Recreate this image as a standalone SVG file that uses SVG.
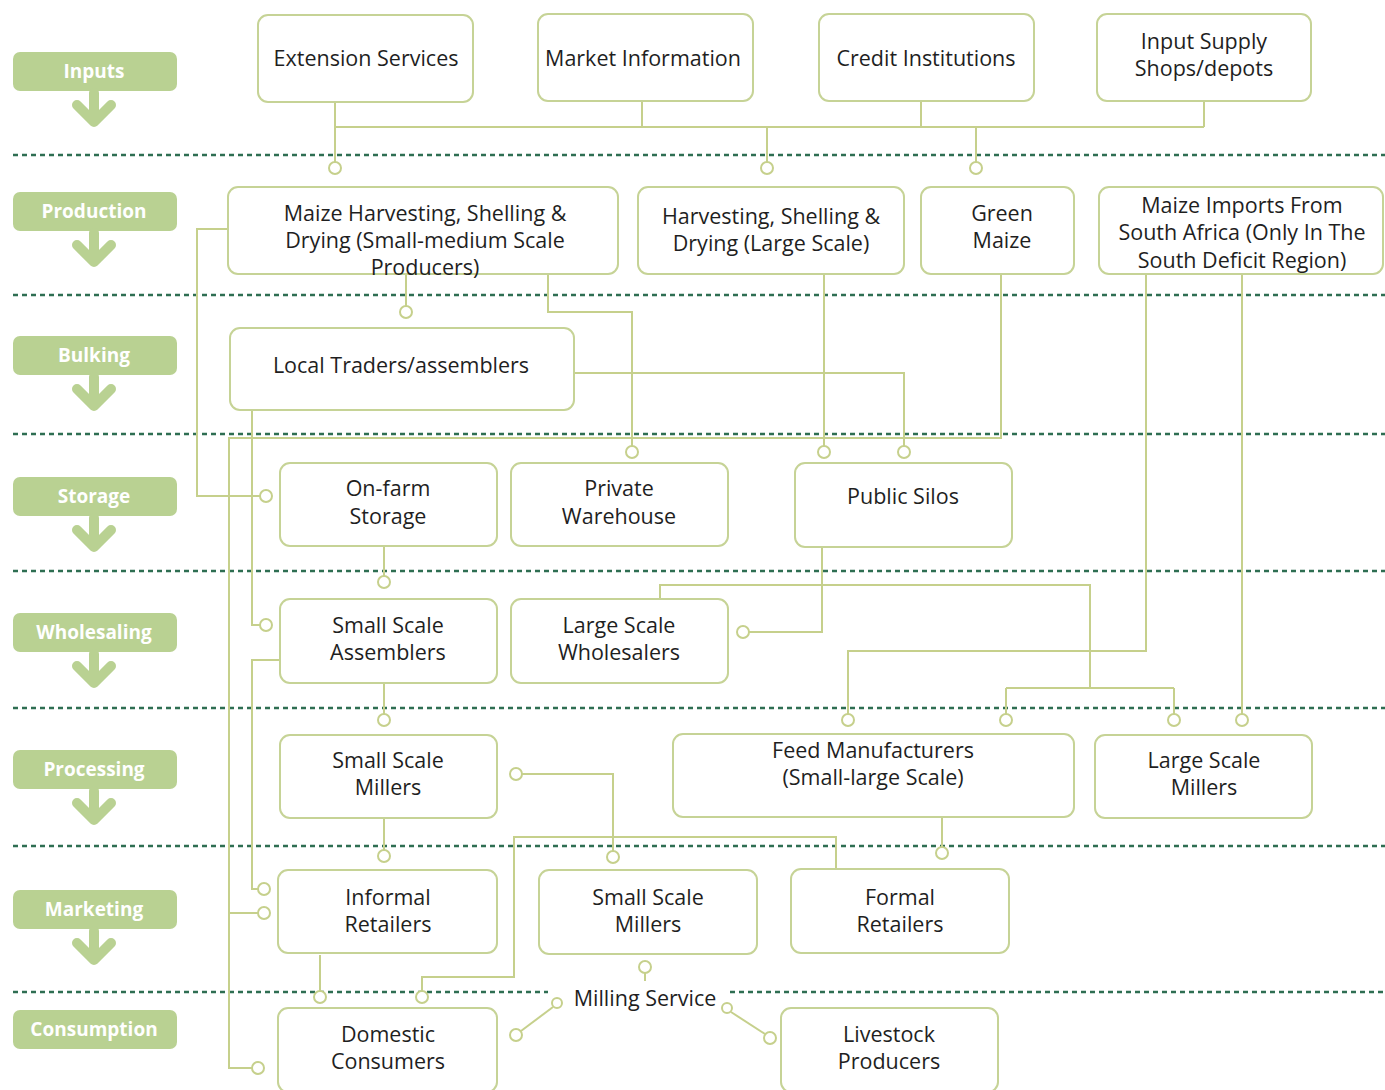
<svg xmlns="http://www.w3.org/2000/svg" width="1385" height="1090" viewBox="0 0 1385 1090">
<style>
.bg{fill:#ffffff}
.stage rect{fill:#b9d192}
.stage text{fill:#ffffff;font-family:"Open Sans","Noto Sans",sans-serif;font-size:19px;font-weight:700;text-anchor:middle}
.stage path{fill:none;stroke:#b9d192;stroke-width:10;stroke-linecap:round;stroke-linejoin:round}
.sep{stroke:#2e6e52;stroke-width:2.5;stroke-dasharray:5 4;fill:none}
.node rect{fill:#ffffff;stroke:#c6d396;stroke-width:2}
.node text{fill:#1f1f1f;font-family:"Open Sans","Noto Sans",sans-serif;font-size:21.5px;text-anchor:middle}
#connectors path{fill:none;stroke:#c6d08c;stroke-width:2}
#connectors circle{fill:#ffffff;stroke:#c6d08c;stroke-width:2}
</style>
<rect class="bg" x="0" y="0" width="1385" height="1090"/>

<g id="separators">
<path class="sep" d="M13,155 H1385"/>
<path class="sep" d="M13,295 H1385"/>
<path class="sep" d="M13,434 H1385"/>
<path class="sep" d="M13,571 H1385"/>
<path class="sep" d="M13,708 H1385"/>
<path class="sep" d="M13,846 H1385"/>
<path class="sep" d="M13,992 H548 M730,992 H1385"/>
</g>

<g id="stages">
<g class="stage" id="stage-inputs"><rect x="13" y="52" width="164" height="39" rx="7"/><text x="94" y="78">Inputs</text><path d="M94,93 V121 M77,105 L94,122 L111,105"/></g>
<g class="stage" id="stage-production"><rect x="13" y="192" width="164" height="39" rx="7"/><text x="94" y="218">Production</text><path d="M94,233 V261 M77,245 L94,262 L111,245"/></g>
<g class="stage" id="stage-bulking"><rect x="13" y="336" width="164" height="39" rx="7"/><text x="94" y="362">Bulking</text><path d="M94,377 V405 M77,389 L94,406 L111,389"/></g>
<g class="stage" id="stage-storage"><rect x="13" y="477" width="164" height="39" rx="7"/><text x="94" y="503">Storage</text><path d="M94,518 V546 M77,530 L94,547 L111,530"/></g>
<g class="stage" id="stage-wholesaling"><rect x="13" y="613" width="164" height="39" rx="7"/><text x="94" y="639">Wholesaling</text><path d="M94,654 V682 M77,666 L94,683 L111,666"/></g>
<g class="stage" id="stage-processing"><rect x="13" y="750" width="164" height="39" rx="7"/><text x="94" y="776">Processing</text><path d="M94,791 V819 M77,803 L94,820 L111,803"/></g>
<g class="stage" id="stage-marketing"><rect x="13" y="890" width="164" height="39" rx="7"/><text x="94" y="916">Marketing</text><path d="M94,931 V959 M77,943 L94,960 L111,943"/></g>
<g class="stage" id="stage-consumption"><rect x="13" y="1010" width="164" height="39" rx="7"/><text x="94" y="1036">Consumption</text></g>
</g>

<g id="connectors">
<path d="M335,102 V162 M335,127 H1204 M642,101 V127 M921,101 V127 M1204,101 V127 M767,127 V162 M976,127 V162"/>
<circle cx="335" cy="168" r="6"/><circle cx="767" cy="168" r="6"/><circle cx="976" cy="168" r="6"/>
<path d="M406,274 V306"/><circle cx="406" cy="312" r="6"/>
<path d="M548,274 V312 H632 V446"/><circle cx="632" cy="452" r="6"/>
<path d="M228,229 H197 V496 H260"/><circle cx="266" cy="496" r="6"/>
<path d="M824,274 V446"/><circle cx="824" cy="452" r="6"/>
<path d="M1001,274 V438 H229 V1068 H252 M229,913 H258"/><circle cx="258" cy="1068" r="6"/><circle cx="264" cy="913" r="6"/>
<path d="M574,373 H904 V446"/><circle cx="904" cy="452" r="6"/>
<path d="M252,410 V625 H260"/><circle cx="266" cy="625" r="6"/>
<path d="M280,660 H252 V889 H258"/><circle cx="264" cy="889" r="6"/>
<path d="M384,546 V576"/><circle cx="384" cy="582" r="6"/>
<path d="M384,683 V714"/><circle cx="384" cy="720" r="6"/>
<path d="M822,547 V632 H749"/><circle cx="743" cy="632" r="6"/>
<path d="M660,599 V585 H1090 V688 M1006,688 H1174 M1006,688 V714 M1174,688 V714"/><circle cx="1006" cy="720" r="6"/><circle cx="1174" cy="720" r="6"/>
<path d="M1146,274 V651 H848 V714"/><circle cx="848" cy="720" r="6"/>
<path d="M1242,274 V714"/><circle cx="1242" cy="720" r="6"/>
<path d="M384,818 V850"/><circle cx="384" cy="856" r="6"/>
<path d="M522,774 H613 V851"/><circle cx="516" cy="774" r="6"/><circle cx="613" cy="857" r="6"/>
<path d="M942,817 V847"/><circle cx="942" cy="853" r="6"/>
<path d="M836,869 V837 H514 V977 H422 V991"/><circle cx="422" cy="997" r="6"/>
<path d="M320,955 V991"/><circle cx="320" cy="997" r="6"/>
<path d="M645,973 V981"/><circle cx="645" cy="967" r="6"/>
<path d="M553,1007 L521,1031"/><circle cx="557" cy="1003" r="5"/><circle cx="516" cy="1035" r="6"/>
<path d="M731,1012 L765,1034"/><circle cx="727" cy="1008" r="5"/><circle cx="770" cy="1038" r="6"/>
</g>

<g id="nodes">
<g class="node" id="n-extension"><rect x="258" y="15" width="215" height="87" rx="10"/><text x="366" y="66">Extension Services</text></g>
<g class="node" id="n-market"><rect x="538" y="14" width="215" height="87" rx="10"/><text x="643" y="66">Market Information</text></g>
<g class="node" id="n-credit"><rect x="819" y="14" width="215" height="87" rx="10"/><text x="926" y="66">Credit Institutions</text></g>
<g class="node" id="n-input"><rect x="1097" y="14" width="214" height="87" rx="10"/><text x="1204" y="49">Input Supply<tspan x="1204" dy="27">Shops/depots</tspan></text></g>

<g class="node" id="n-maize-small"><rect x="228" y="187" width="390" height="87" rx="10"/><text x="425" y="221">Maize Harvesting, Shelling &amp;<tspan x="425" dy="27">Drying (Small-medium Scale</tspan><tspan x="425" dy="27">Producers)</tspan></text></g>
<g class="node" id="n-maize-large"><rect x="638" y="187" width="266" height="87" rx="10"/><text x="771" y="224">Harvesting, Shelling &amp;<tspan x="771" dy="27">Drying (Large Scale)</tspan></text></g>
<g class="node" id="n-green"><rect x="921" y="187" width="153" height="87" rx="10"/><text x="1002" y="221">Green<tspan x="1002" dy="27">Maize</tspan></text></g>
<g class="node" id="n-imports"><rect x="1099" y="187" width="284" height="87" rx="10"/><text x="1242" y="213">Maize Imports From<tspan x="1242" dy="27">South Africa (Only In The</tspan><tspan x="1242" dy="28">South Deficit Region)</tspan></text></g>

<g class="node" id="n-local"><rect x="230" y="328" width="344" height="82" rx="10"/><text x="401" y="373">Local Traders/assemblers</text></g>

<g class="node" id="n-onfarm"><rect x="280" y="463" width="217" height="83" rx="10"/><text x="388" y="496">On-farm<tspan x="388" dy="28">Storage</tspan></text></g>
<g class="node" id="n-private"><rect x="511" y="463" width="217" height="83" rx="10"/><text x="619" y="496">Private<tspan x="619" dy="28">Warehouse</tspan></text></g>
<g class="node" id="n-silos"><rect x="795" y="463" width="217" height="84" rx="10"/><text x="903" y="504">Public Silos</text></g>

<g class="node" id="n-assemblers"><rect x="280" y="599" width="217" height="84" rx="10"/><text x="388" y="633">Small Scale<tspan x="388" dy="27">Assemblers</tspan></text></g>
<g class="node" id="n-wholesalers"><rect x="511" y="599" width="217" height="84" rx="10"/><text x="619" y="633">Large Scale<tspan x="619" dy="27">Wholesalers</tspan></text></g>

<g class="node" id="n-millers-small"><rect x="280" y="735" width="217" height="83" rx="10"/><text x="388" y="768">Small Scale<tspan x="388" dy="27">Millers</tspan></text></g>
<g class="node" id="n-feed"><rect x="673" y="734" width="401" height="83" rx="10"/><text x="873" y="758">Feed Manufacturers<tspan x="873" dy="27">(Small-large Scale)</tspan></text></g>
<g class="node" id="n-millers-large"><rect x="1095" y="735" width="217" height="83" rx="10"/><text x="1204" y="768">Large Scale<tspan x="1204" dy="27">Millers</tspan></text></g>

<g class="node" id="n-informal"><rect x="278" y="870" width="219" height="83" rx="10"/><text x="388" y="905">Informal<tspan x="388" dy="27">Retailers</tspan></text></g>
<g class="node" id="n-millers-small2"><rect x="539" y="870" width="218" height="84" rx="10"/><text x="648" y="905">Small Scale<tspan x="648" dy="27">Millers</tspan></text></g>
<g class="node" id="n-formal"><rect x="791" y="869" width="218" height="84" rx="10"/><text x="900" y="905">Formal<tspan x="900" dy="27">Retailers</tspan></text></g>

<g class="node" id="n-milling"><text x="645" y="1006">Milling Service</text></g>

<g class="node" id="n-domestic"><rect x="278" y="1008" width="219" height="84" rx="10"/><text x="388" y="1042">Domestic<tspan x="388" dy="27">Consumers</tspan></text></g>
<g class="node" id="n-livestock"><rect x="781" y="1008" width="217" height="84" rx="10"/><text x="889" y="1042">Livestock<tspan x="889" dy="27">Producers</tspan></text></g>
</g>
</svg>
